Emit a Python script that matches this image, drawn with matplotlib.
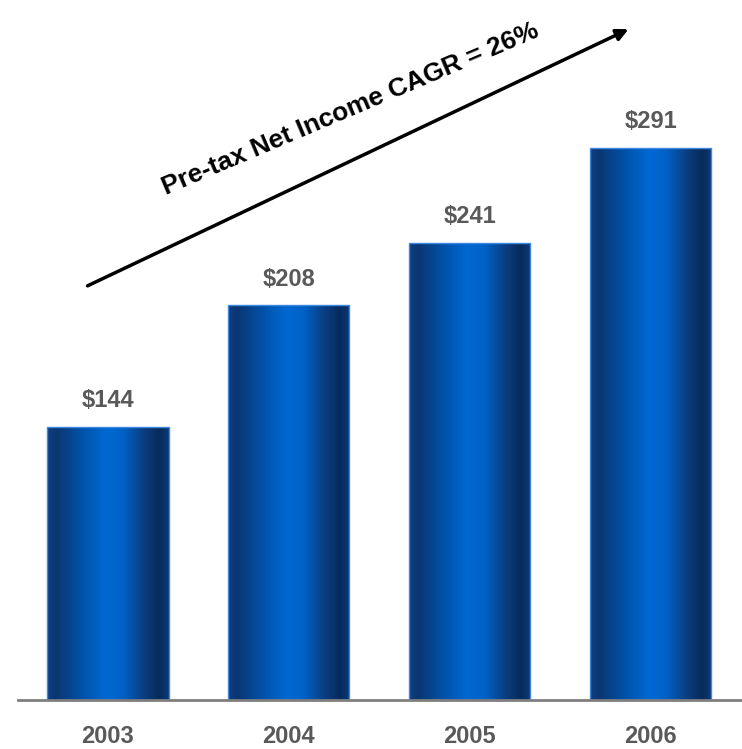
import numpy as np
import matplotlib.pyplot as plt
from matplotlib.colors import LinearSegmentedColormap
from matplotlib.patches import FancyArrowPatch

plt.rcParams['font.family'] = ['Liberation Sans', 'DejaVu Sans']

# pre-tax net income, $ millions
years = ["2003", "2004", "2005", "2006"]
income = [144, 208, 241, 291]
value_labels = ["$144", "$208", "$241", "$291"]
cagr_text = "Pre-tax Net Income CAGR = 26%"

# horizontal shading across each bar: dark edges, bright middle
shade = LinearSegmentedColormap.from_list("bar_shade", [
    (0.00, "#0f4084"),
    (0.07, "#0b3670"),
    (0.30, "#0054ac"),
    (0.48, "#0068d2"),
    (0.62, "#0062c8"),
    (0.80, "#0b3d7e"),
    (0.92, "#072b5c"),
    (1.00, "#0c3a78"),
])

fig = plt.figure(figsize=(7.42, 7.49), dpi=100)
ax = fig.add_axes([0.0236, 0.0654, 0.975, 0.861])

x = np.arange(len(years))
bars = ax.bar(x, income, width=0.67, color="none", edgecolor="#3f8ae0", linewidth=1.0, zorder=3)

grad = np.linspace(0, 1, 256).reshape(1, -1)
for b in bars:
    x0, y0 = b.get_x(), b.get_y()
    w, h = b.get_width(), b.get_height()
    im = ax.imshow(grad, cmap=shade, aspect="auto", extent=(x0, x0 + w, y0, y0 + h),
                   interpolation="bicubic", zorder=2)
    im.set_clip_path(b)

for xi, val, lab in zip(x, income, value_labels):
    ax.annotate(lab, (xi, val), xytext=(0, 19), textcoords="offset points",
                ha="center", va="center", fontsize=17, fontweight="bold", color="#595959")

ax.set_xlim(-0.5, 3.5)
ax.set_ylim(0, 340)
ax.set_xticks(x)
ax.set_xticklabels(years, fontsize=17, fontweight="bold", color="#595959")
ax.tick_params(axis="x", length=0, pad=18)
ax.set_yticks([])
for side in ["top", "left", "right"]:
    ax.spines[side].set_visible(False)
ax.spines["bottom"].set_color("#7f7f7f")
ax.spines["bottom"].set_linewidth(2)
ax.spines["bottom"].set_zorder(4)

# growth arrow and CAGR caption
fig.patches.append(FancyArrowPatch(
    (0.1146, 0.6168), (0.8504, 0.9626), transform=fig.transFigure,
    arrowstyle="-|>,head_length=7,head_width=3.5", color="black", linewidth=2.5))
fig.text(0.472, 0.855, cagr_text, rotation=23, rotation_mode="anchor",
         ha="center", va="center", fontsize=19, fontweight="bold", color="black")

fig.savefig("out.png", dpi=100, facecolor="white")
